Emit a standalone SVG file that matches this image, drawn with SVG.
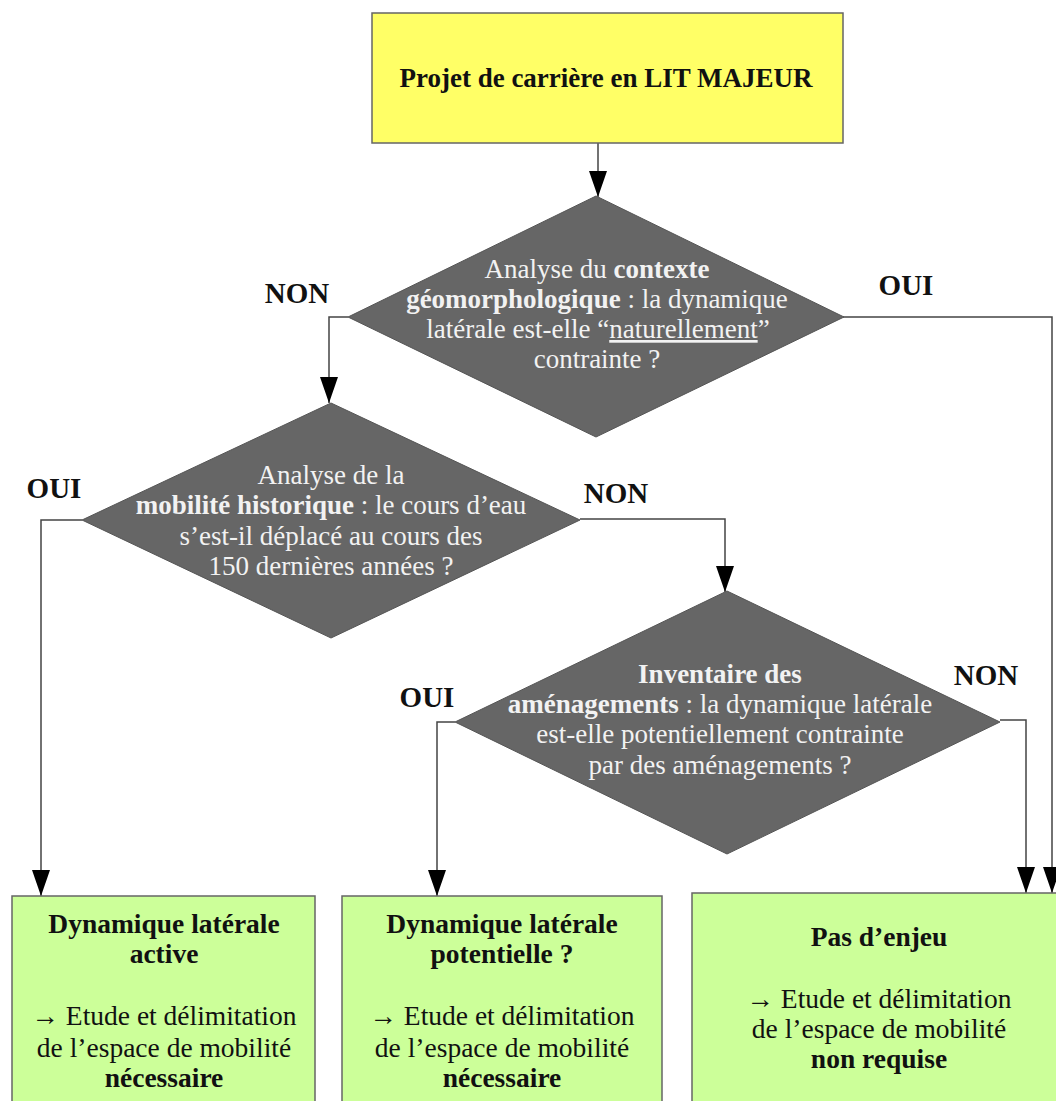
<svg xmlns="http://www.w3.org/2000/svg" width="1056" height="1101" viewBox="0 0 1056 1101">
<style>
.box{stroke:#666;stroke-width:1.5}
.start{fill:#ffff66}
.end{fill:#ccff99}
.dia{fill:#666666;stroke:#555;stroke-width:1}
text{font-family:'Liberation Serif','Times New Roman',Times,serif}
.dt{font-size:27px;fill:#f2f2f2;text-anchor:middle}
.bt{font-size:27.5px;fill:#111;text-anchor:middle}
.tt{font-size:27px;font-weight:bold;fill:#111;text-anchor:middle}
.lbl{font-size:29px;font-weight:bold;fill:#111;text-anchor:middle}
.b{font-weight:bold}
.conn{fill:none;stroke:#444;stroke-width:1.5;marker-end:url(#arr)}
</style>
<defs>
<marker id="arr" viewBox="0 0 26 18" refX="26" refY="9" markerWidth="26" markerHeight="18" markerUnits="userSpaceOnUse" orient="auto">
<path d="M0,0 L26,9 L0,18 z" fill="#000"/>
</marker>
</defs>
<rect width="1056" height="1101" fill="#fff"/>
<g id="connectors">
<path class="conn" d="M598,143 L598,197"/>
<path class="conn" d="M348,317 L329,317 L329,403"/>
<path class="conn" d="M843,317 L1052,317 L1052,893"/>
<path class="conn" d="M82,520 L41,520 L41,896"/>
<path class="conn" d="M580,519 L725,519 L725,592"/>
<path class="conn" d="M455,722 L437,722 L437,896"/>
<path class="conn" d="M1000,720 L1026,720 L1026,893"/>
</g>
<g id="start">
<rect class="box start" x="372" y="13" width="471" height="130"/>
<text class="tt" x="606" y="87">Projet de carrière en LIT MAJEUR</text>
</g>
<g id="q1">
<polygon class="dia" points="596,196 844,317 596,437 348,317"/>
<text class="dt" x="597" y="278">Analyse du <tspan class="b">contexte</tspan></text>
<text class="dt" x="597" y="308"><tspan class="b">géomorphologique</tspan> : la dynamique</text>
<text class="dt" x="598" y="338">latérale est-elle “<tspan text-decoration="underline">naturellement</tspan>”</text>
<text class="dt" x="597" y="368">contrainte ?</text>
</g>
<g id="q2">
<polygon class="dia" points="331,403 580,520 331,638 82,520"/>
<text class="dt" x="331" y="484">Analyse de la</text>
<text class="dt" x="331" y="514"><tspan class="b">mobilité historique</tspan> : le cours d’eau</text>
<text class="dt" x="331" y="545">s’est-il déplacé au cours des</text>
<text class="dt" x="331" y="575">150 dernières années ?</text>
</g>
<g id="q3">
<polygon class="dia" points="727,591 1000,722 727,854 455,722"/>
<text class="dt b" x="720" y="683">Inventaire des</text>
<text class="dt" x="720" y="713"><tspan class="b">aménagements</tspan> : la dynamique latérale</text>
<text class="dt" x="720" y="743">est-elle potentiellement contrainte</text>
<text class="dt" x="720" y="774">par des aménagements ?</text>
</g>
<g id="labels">
<text class="lbl" x="297" y="303">NON</text>
<text class="lbl" x="906" y="295">OUI</text>
<text class="lbl" x="54" y="498">OUI</text>
<text class="lbl" x="616" y="503">NON</text>
<text class="lbl" x="427" y="707">OUI</text>
<text class="lbl" x="986" y="685">NON</text>
</g>
<g id="r1">
<rect class="box end" x="12" y="896" width="303" height="220"/>
<text class="bt b" x="164" y="933">Dynamique latérale</text>
<text class="bt b" x="164" y="963">active</text>
<text class="bt" x="164" y="1025">→ Etude et délimitation</text>
<text class="bt" x="164" y="1057">de l’espace de mobilité</text>
<text class="bt b" x="164" y="1087">nécessaire</text>
</g>
<g id="r2">
<rect class="box end" x="342" y="896" width="320" height="220"/>
<text class="bt b" x="502" y="933">Dynamique latérale</text>
<text class="bt b" x="502" y="963">potentielle ?</text>
<text class="bt" x="502" y="1025">→ Etude et délimitation</text>
<text class="bt" x="502" y="1057">de l’espace de mobilité</text>
<text class="bt b" x="502" y="1087">nécessaire</text>
</g>
<g id="r3">
<rect class="box end" x="692" y="893" width="380" height="220"/>
<text class="bt b" x="879" y="946">Pas d’enjeu</text>
<text class="bt" x="879" y="1008">→ Etude et délimitation</text>
<text class="bt" x="879" y="1038">de l’espace de mobilité</text>
<text class="bt b" x="879" y="1068">non requise</text>
</g>
</svg>
